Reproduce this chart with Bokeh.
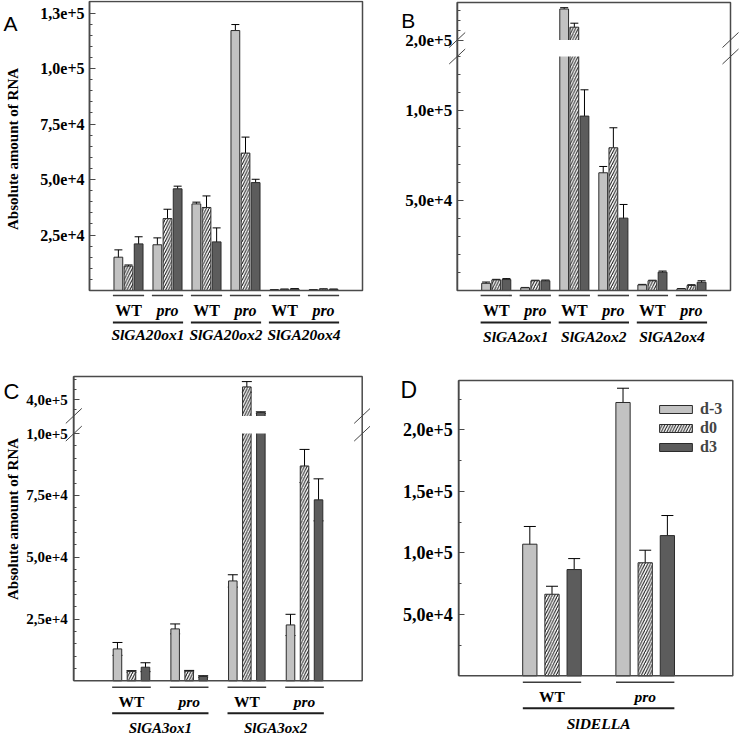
import math
from bokeh.plotting import figure
from bokeh.models import (Range1d, FixedTicker, Arrow, Label, Whisker, TeeHead,
                          ColumnDataSource, Legend, LegendItem, LinearAxis, BoxAnnotation)
from bokeh.layouts import row, column
from bokeh.embed import file_html
from bokeh.resources import INLINE

# ---------------- data ----------------
series = ["d-3", "d0", "d3"]

# Panel A
A_groups = ["WT", "pro", "WT", "pro", "WT", "pro"]
A_genes = ["SlGA20ox1", "SlGA20ox2", "SlGA20ox4"]
A_dm3 = [15000, 20600, 39000, 117100, 300, 300]
A_dm3_err = [3300, 3100, 800, 2700, 150, 100]
A_d0 = [11000, 32400, 37400, 61900, 500, 600]
A_d0_err = [500, 4200, 5200, 7200, 150, 150]
A_d3 = [21000, 45800, 21900, 48600, 700, 500]
A_d3_err = [3200, 1200, 6300, 1500, 200, 150]
A_ticks = [25000, 50000, 75000, 100000, 125000]
A_tick_labels = ["2,5e+4", "5,0e+4", "7,5e+4", "1,0e+5", "1,3e+5"]
A_minor = [5000 * i for i in range(1, 26)]

# Panel B
B_groups = ["WT", "pro", "WT", "pro", "WT", "pro"]
B_genes = ["SlGA2ox1", "SlGA2ox2", "SlGA2ox4"]
B_dm3 = [4000, 1500, 231000, 65400, 3100, 900]
B_dm3_err = [700, 200, 1300, 3500, 300, 200]
B_d0 = [5900, 5400, 212800, 79300, 5400, 2800]
B_d0_err = [300, 300, 4000, 11100, 300, 400]
B_d3 = [6100, 5400, 96900, 40200, 10200, 4600]
B_d3_err = [500, 400, 14600, 7600, 600, 800]
B_ticks = [50000, 100000, 200000]
B_tick_labels = ["5,0e+4", "1,0e+5", "2,0e+5"]
B_minor = [10000 * i for i in range(1, 14)] + [210000, 220000, 230000]

# Panel C
C_groups = ["WT", "pro", "WT", "pro"]
C_genes = ["SlGA3ox1", "SlGA3ox2"]
C_dm3 = [12900, 21000, 40400, 22600]
C_dm3_err = [2600, 2000, 2500, 4300]
C_d0 = [3800, 3900, 413000, 86900]
C_d0_err = [300, 300, 5300, 6700]
C_d3 = [5500, 1750, 387300, 73200]
C_d3_err = [1800, 300, 800, 8500]
C_ticks = [25000, 50000, 75000, 100000, 400000]
C_tick_labels = ["2,5e+4", "5,0e+4", "7,5e+4", "1,0e+5", "4,0e+5"]
C_minor = [5000 * i for i in range(1, 21)] + [390000, 410000, 420000]

# Panel D
D_groups = ["WT", "pro"]
D_genes = ["SlDELLA"]
D_dm3 = [107000, 222200]
D_dm3_err = [14400, 11600]
D_d0 = [66300, 91900]
D_d0_err = [6500, 10200]
D_d3 = [86400, 114000]
D_d3_err = [8900, 16300]
D_ticks = [50000, 100000, 150000, 200000]
D_tick_labels = ["5,0e+4", "1,0e+5", "1,5e+5", "2,0e+5"]
D_minor = [25000, 75000, 125000, 175000, 225000]

# ---------------- style ----------------
FILLS = ["#c2c2c2", "white", "#5c5c5c"]
HATCH = [None, "/", None]
SERIF = "Liberation Serif"
FRAME = "#4a4a4a"


def build(ox, oy, W, H, FL, FR, FT, FB, x_end, y_top,
          groups, genes, vals, errs, offs, bar_w, cap,
          ticks, tick_labels, minor, tick_size, standoff,
          lo=None, hi=None, gap_px=0, k=1.0,
          under=(295, 310, 322, 334), half=0.4, grp_size="16px", gene_size="15.5px",
          letter="A", letter_pos=(3, 23), letter_size="21px",
          ylabel_pos=None, legend_loc=None):
    ux = (FR - FL) / x_end
    uy = (FB - FT) / y_top

    def xd(px):
        return (px - FL) / ux

    def yd(py):
        return (FB - py) / uy

    if lo is not None:
        gap = gap_px / uy

        def tf(v):
            return v if v <= lo else lo + gap + (v - hi) * k
    else:
        def tf(v):
            return v

    p = figure(width=W, height=H, x_range=Range1d(xd(ox), xd(ox + W)),
               y_range=Range1d(yd(oy + H), yd(oy)), output_backend="svg",
               toolbar_location=None, x_axis_type=None, y_axis_type=None,
               min_border_left=0, min_border_right=0,
               min_border_top=0, min_border_bottom=0)
    p.outline_line_color = None
    p.grid.visible = False

    n = len(groups)
    rends = []
    for i in range(3):
        xs = [g + 1 + offs[i] for g in range(n)]
        src = ColumnDataSource(dict(
            x=xs,
            top=[tf(v) for v in vals[i]],
            up=[tf(v + e) for v, e in zip(vals[i], errs[i])],
            low=[tf(v - e) for v, e in zip(vals[i], errs[i])],
        ))
        r = p.vbar(x="x", top="top", bottom=0, width=bar_w, source=src,
                   fill_color=FILLS[i], line_color="#2b2b2b", line_width=1,
                   hatch_pattern=HATCH[i], hatch_color="#111111",
                   hatch_scale=5.5, hatch_weight=1)
        rends.append(r)
        p.add_layout(Whisker(base="x", upper="up", lower="low", source=src,
                             dimension="height", line_color="black", line_width=1,
                             upper_head=TeeHead(size=cap, line_color="black", line_width=1),
                             lower_head=TeeHead(size=cap, line_color="black", line_width=1)))

    if lo is not None:
        p.quad(left=0, right=x_end, bottom=lo, top=lo + gap,
               fill_color="white", line_color=None)

    # frame box
    p.add_layout(BoxAnnotation(left=0, right=x_end, bottom=0, top=y_top,
                               fill_alpha=0, line_color=FRAME, line_alpha=1.0,
                               line_width=1.5, level="overlay"))

    if lo is not None:
        ddx = 8 / ux
        ddy = 7.5 / uy
        for yc in (lo, lo + gap):
            for xc in (0, x_end):
                p.add_layout(Arrow(x_start=xc - ddx, y_start=yc - ddy,
                                   x_end=xc + ddx, y_end=yc + ddy, end=None,
                                   line_color="#444444", line_width=1, level="overlay"))

    maj = [tf(t) for t in ticks]
    mnr = [tf(t) for t in minor if t not in ticks]
    ax = LinearAxis(fixed_location=0, bounds=(0, y_top),
                    ticker=FixedTicker(ticks=maj, minor_ticks=mnr))
    ax.major_label_overrides = dict(zip(maj, tick_labels))
    ax.major_tick_in = 6
    ax.major_tick_out = 0
    ax.minor_tick_in = 3
    ax.minor_tick_out = 0
    ax.axis_line_color = FRAME
    ax.axis_line_width = 1.5
    ax.major_tick_line_color = FRAME
    ax.minor_tick_line_color = FRAME
    ax.major_label_text_font = SERIF
    ax.major_label_text_font_style = "bold"
    ax.major_label_text_font_size = tick_size
    ax.major_label_text_color = "black"
    ax.major_label_standoff = standoff
    p.add_layout(ax, "left")

    # group / gene labels below the frame
    for g in range(n):
        xc = g + 1
        p.add_layout(Arrow(x_start=xc - half, y_start=yd(under[0]),
                           x_end=xc + half, y_end=yd(under[0]), end=None,
                           line_color="#3c3c3c", line_width=1.6))
        p.add_layout(Label(x=xc, y=yd(under[1]), text=groups[g],
                           text_align="center", text_baseline="middle",
                           text_font=SERIF,
                           text_font_style="bold" if groups[g] == "WT" else "bold italic",
                           text_font_size=grp_size, text_color="black"))
    for j, gene in enumerate(genes):
        a, b = 2 * j + 1, 2 * j + 2
        p.add_layout(Arrow(x_start=a - half, y_start=yd(under[2]),
                           x_end=b + half, y_end=yd(under[2]), end=None,
                           line_color="#1e1e1e", line_width=2))
        p.add_layout(Label(x=(a + b) / 2, y=yd(under[3]), text=gene,
                           text_align="center", text_baseline="middle",
                           text_font=SERIF, text_font_style="bold italic",
                           text_font_size=gene_size, text_color="black"))

    p.add_layout(Label(x=xd(letter_pos[0]), y=yd(letter_pos[1]), text=letter,
                       text_align="left", text_baseline="alphabetic",
                       text_font="Liberation Sans", text_font_size=letter_size,
                       text_color="black"))
    if ylabel_pos is not None:
        p.add_layout(Label(x=xd(ylabel_pos[0]), y=yd(ylabel_pos[1]),
                           text="Absolute amount of RNA", angle=math.pi / 2,
                           text_align="center", text_baseline="middle",
                           text_font=SERIF, text_font_style="bold",
                           text_font_size="15px", text_color="black"))
    if legend_loc is not None:
        leg = Legend(items=[LegendItem(label=s, renderers=[r]) for s, r in zip(series, rends)],
                     location=(legend_loc[0] - ox, oy + H - legend_loc[1]),
                     glyph_width=41, glyph_height=10,
                     label_height=19, spacing=0, padding=4, margin=0,
                     label_standoff=4, background_fill_alpha=0,
                     border_line_color=None, label_text_font=SERIF,
                     label_text_font_style="bold", label_text_font_size="16px")
        p.add_layout(leg)
    return p


pA = build(0, 0, 370, 366, 89, 362, 1, 290, 7.0, 289 * 25000 / 55.5,
           A_groups, A_genes, [A_dm3, A_d0, A_d3], [A_dm3_err, A_d0_err, A_d3_err],
           [-0.26, 0, 0.26], 0.225, 8,
           A_ticks, A_tick_labels, A_minor, "16px", 5,
           under=(295, 310, 322, 334), half=0.4,
           letter="A", letter_pos=(3, 23), letter_size="21px",
           ylabel_pos=(12.5, 148.5))

pB = build(370, 0, 370, 366, 456.7, 730, 2, 290, 7.0, 288 * 10000 / 18,
           B_groups, B_genes, [B_dm3, B_d0, B_d3], [B_dm3_err, B_d0_err, B_d3_err],
           [-0.26, 0, 0.26], 0.225, 8,
           B_ticks, B_tick_labels, B_minor, "17px", 5,
           lo=130000, hi=200000, gap_px=16.5, k=10 / 18,
           under=(295, 310, 322, 336), half=0.4,
           letter="B", letter_pos=(400.7, 20), letter_size="21px")

pC = build(0, 366, 370, 370, 73.3, 361.7, 376, 680.3, 5.0, 304.3 * 25000 / 61.8,
           C_groups, C_genes, [C_dm3, C_d0, C_d3], [C_dm3_err, C_d0_err, C_d3_err],
           [-0.243, 0, 0.243], 0.148, 10,
           C_ticks, C_tick_labels, C_minor, "15px", 6,
           lo=100000, hi=384000, gap_px=17.7, k=0.4045,
           under=(686.7, 701, 712.7, 727.5), half=0.335, grp_size="15.5px", gene_size="15px",
           letter="C", letter_pos=(3, 390.5), letter_size="22px",
           ylabel_pos=(12.5, 518.5))

pD = build(370, 366, 370, 370, 458.3, 732.3, 380, 675.3, 274 / 93.2, 295.3 * 50000 / 61.5,
           D_groups, D_genes, [D_dm3, D_d0, D_d3], [D_dm3_err, D_d0_err, D_d3_err],
           [-0.238, 0, 0.238], 0.153, 12,
           D_ticks, D_tick_labels, D_minor, "18px", 6,
           under=(681.7, 696, 707.7, 722.7), half=0.313, grp_size="15.5px", gene_size="15.5px",
           letter="D", letter_pos=(400, 389), letter_size="23px",
           legend_loc=(655, 456))

layout = column(row(pA, pB), row(pC, pD))
open("out.html", "w").write(file_html(layout, INLINE))
